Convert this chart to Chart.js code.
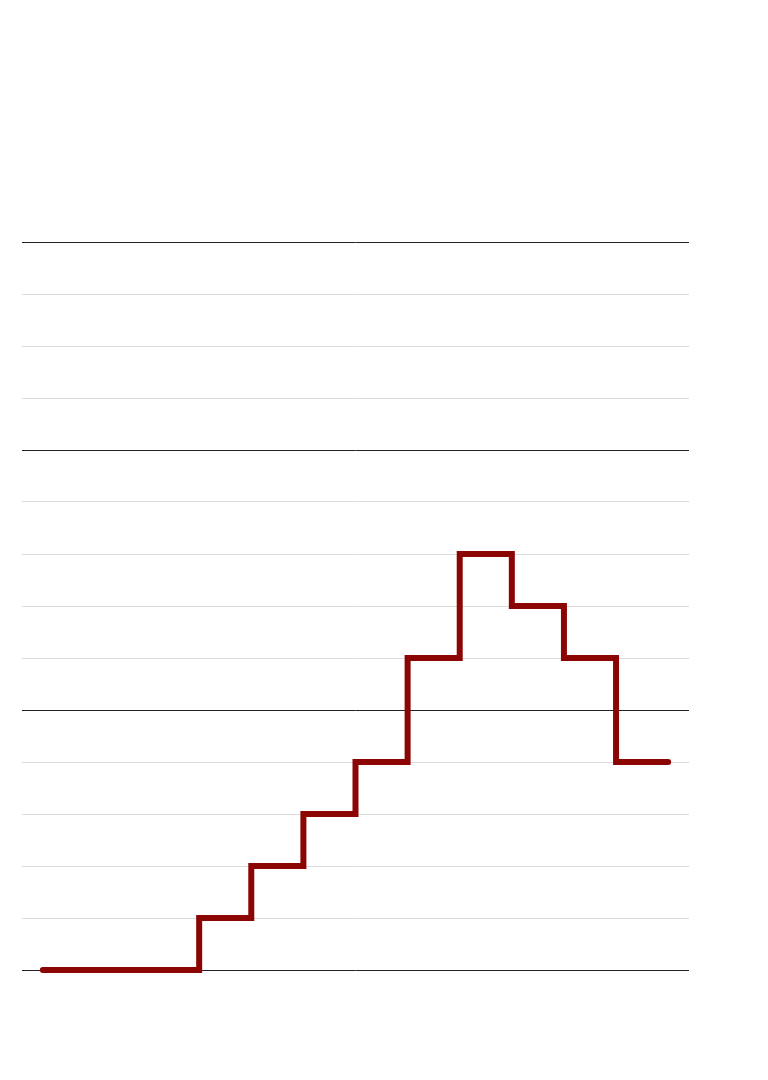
<!DOCTYPE html>
<html>
<head>
<meta charset="utf-8">
<script src="https://cdn.jsdelivr.net/npm/chart.js@4/dist/chart.umd.min.js"></script>
<style>
html,body{margin:0;padding:0;background:#fff;}
#wrap{width:768px;height:1080px;position:relative;}
</style>
</head>
<body>
<div id="wrap"><canvas id="c" width="768" height="1080"></canvas></div>
<script>
const xPositions = [0,1,2,3,4,5,6,7,8,9,10,11,12];
const values = [0,0,0,1,2,3,4,6,8,7,6,4,4];
const yTicks = [0,1,2,3,4,5,6,7,8,9,10,11,12,13,14];
const majorTicks = [0,5,10,14];

const points = xPositions.map((x,i)=>({x:x,y:values[i]}));

new Chart(document.getElementById('c'), {
  type: 'line',
  data: {
    datasets: [{
      data: points,
      stepped: 'before',
      borderColor: '#8c0505',
      borderWidth: 6,
      borderCapStyle: 'round',
      borderJoinStyle: 'miter',
      pointRadius: 0,
      fill: false,
      clip: false
    }]
  },
  options: {
    responsive: false,
    animation: false,
    layout: {padding: {left: 22, right: 79, top: 242, bottom: 110}},
    plugins: {legend: {display: false}, tooltip: {enabled: false}},
    scales: {
      x: {
        type: 'linear',
        min: -0.4,
        max: 12.4,
        display: false
      },
      y: {
        type: 'linear',
        min: 0,
        max: 14,
        afterBuildTicks: (s) => { s.ticks = yTicks.map(v => ({value: v})); },
        ticks: {display: false},
        border: {display: false},
        grid: {
          drawTicks: false,
          color: (ctx) => majorTicks.includes(ctx.tick.value) ? '#222222' : '#dcdcdc',
          lineWidth: 1
        }
      }
    }
  }
});
</script>
</body>
</html>
